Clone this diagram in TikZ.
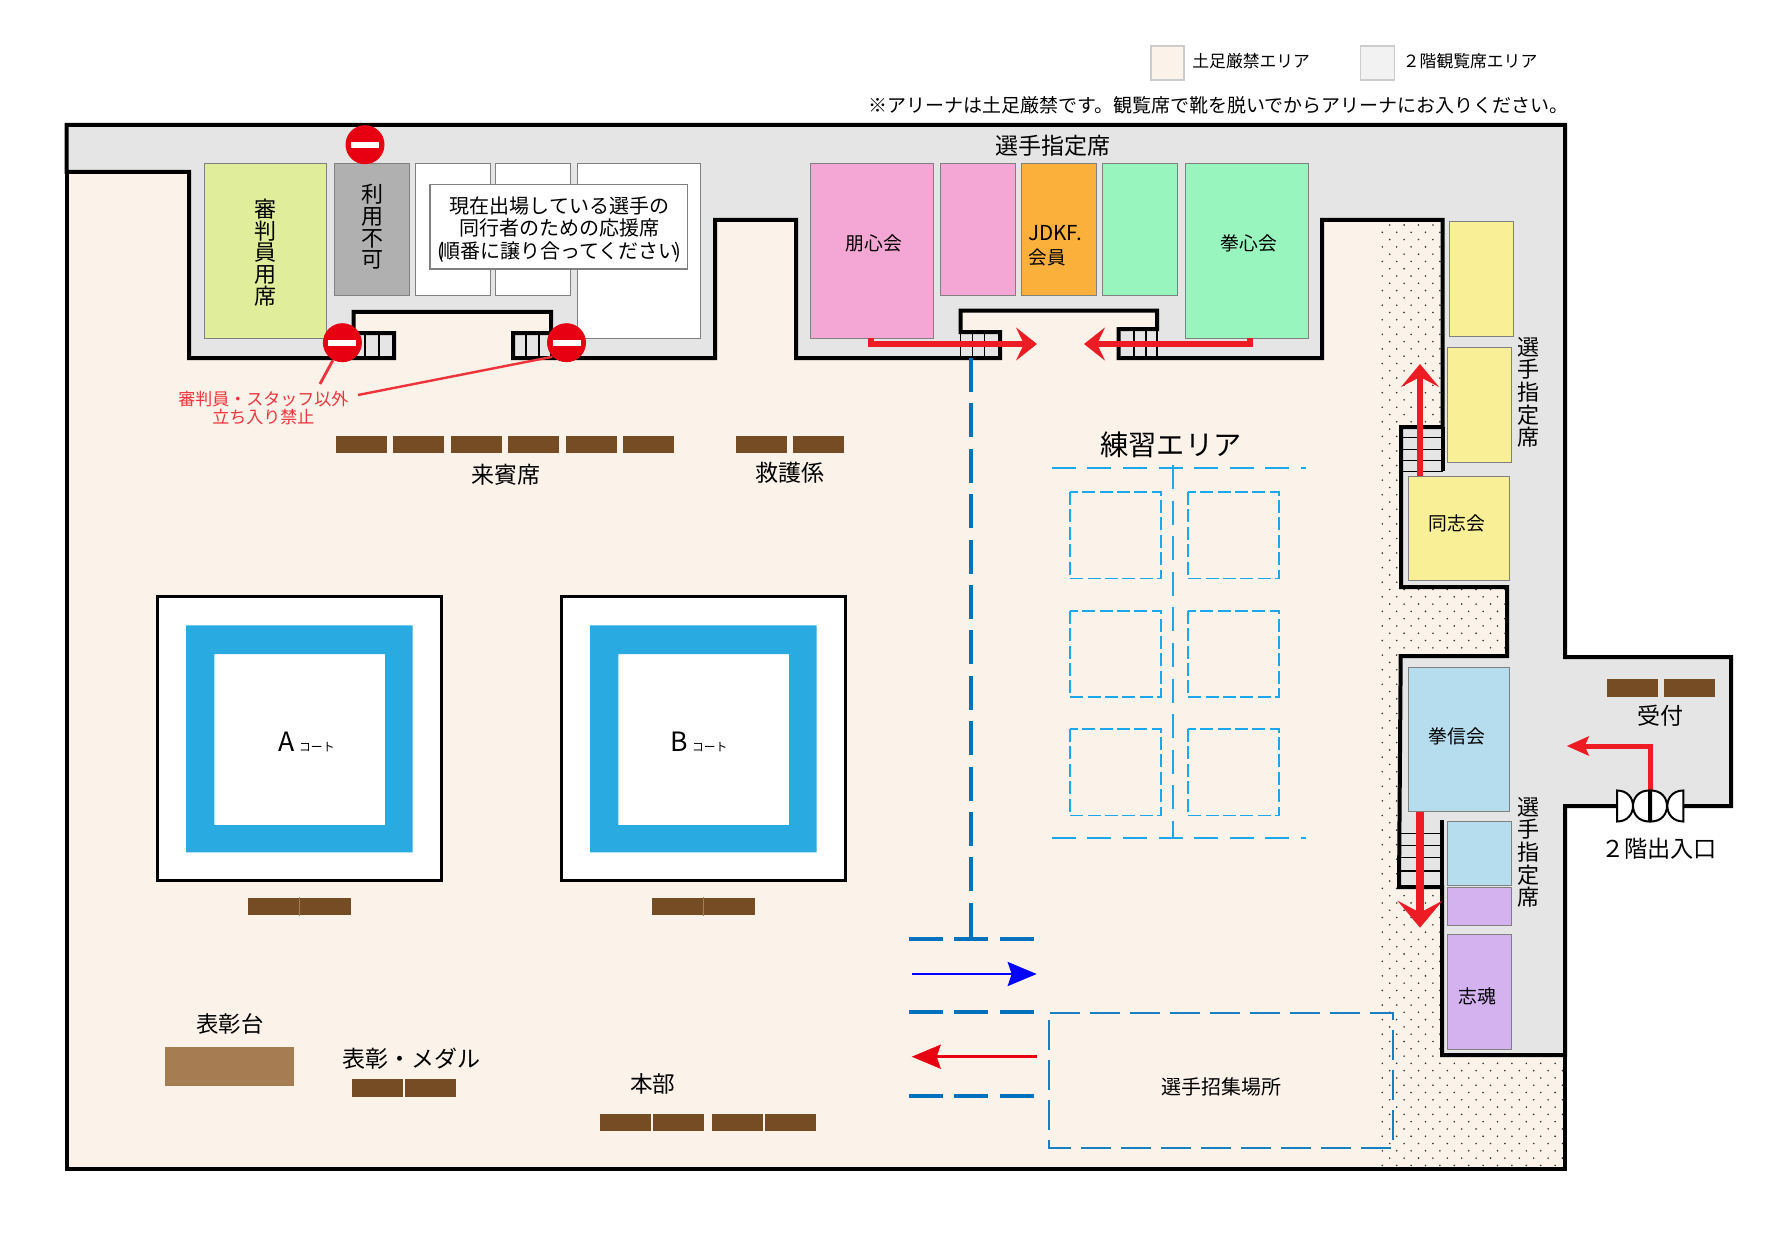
\documentclass[tikz,border=0pt]{standalone}
\usepackage{fontspec}
\setmainfont{Noto Sans CJK JP}
\usetikzlibrary{arrows.meta,positioning}

\definecolor{floorbeige}{HTML}{FBF2E9}
\definecolor{upstairs}{HTML}{E5E5E5}
\definecolor{legendgray}{HTML}{F2F2F2}
\definecolor{deskbrown}{HTML}{754C24}
\definecolor{podiumbrown}{HTML}{A67C52}
\definecolor{courtblue}{HTML}{29ABE2}
\definecolor{routeblue}{HTML}{0071BC}
\definecolor{matblue}{HTML}{1AA7EC}
\definecolor{flowred}{HTML}{ED1C24}
\definecolor{signred}{HTML}{E60012}
\definecolor{judgegreen}{HTML}{E0ED9A}
\definecolor{closedgray}{HTML}{B0B0B0}
\definecolor{pinkseat}{HTML}{F4A7D4}
\definecolor{orangeseat}{HTML}{FBB03B}
\definecolor{greenseat}{HTML}{98F5BD}
\definecolor{yellowseat}{HTML}{F8EF96}
\definecolor{blueseat}{HTML}{B6DDEE}
\definecolor{purpleseat}{HTML}{D4B2F0}

\begin{document}
\begin{tikzpicture}
    [
        x=0.5pt, y=-0.5pt,
        wall/.style={draw=black, line width=2pt, miter limit=4},
        seat/.style={draw=black!50, line width=0.5pt},
        stairline/.style={draw=black, line width=0.65pt},
        desk/.style={rectangle, fill=deskbrown, inner sep=0pt, minimum width=25.5pt, minimum height=8.7pt},
        noentry/.style={circle, fill=signred, text=white, inner sep=0pt, minimum size=19.5pt},
        txt/.style 2 args={inner sep=0pt, font=\fontsize{#1}{#2}\selectfont},
        vtxt/.style 2 args={txt={#1}{#2}, align=center},
        routeline/.style={routeblue, line width=2.2pt, dash pattern=on 17pt off 5.7pt},
        matline/.style={matblue, line width=0.8pt, dash pattern=on 12pt off 5.8pt},
        matbox/.style={matblue, line width=0.8pt, dash pattern=on 6.5pt off 2.2pt},
        callarea/.style={routeblue!90!white, line width=1pt, dash pattern=on 15pt off 5pt},
        flowarrow/.style n args={4}{flowred, line width=#1, -{Stealth[length=#2, width=#3, inset=#4]}},
    ]

    \fill [white] (0,0) rectangle (1772,1246);
    \useasboundingbox (0,0) rectangle (1772,1246);

    % floor and dots
    \fill [floorbeige] (66.5,125) rectangle (1565,1169);
    \foreach \r in {0,...,129} {
        \pgfmathsetmacro\rowy{225+7.29*\r}
        \pgfmathsetmacro\rowx{1382.3+7.4*(1-mod(\r,2))}
        \foreach \c in {0,...,12}
            \fill [black!80] ({\rowx+14.4*\c},\rowy) circle [radius=0.45pt];
    }
    \draw [wall] (66.5,125) rectangle (1565,1169);

    % upstairs area
    \path [wall, fill=upstairs] (66.5,125) -- (1565,125) -- (1565,657) -- (1731,657) -- (1731,806)
        -- (1565,806) -- (1565,1055) -- (1442,1055) -- (1442,887) -- (1399,887) -- (1400.7,656)
        -- (1507,656) -- (1507,587) -- (1401,587) -- (1401,427) -- (1442.7,427) -- (1442.7,220)
        -- (1322,220) -- (1322,358) -- (1118.7,358) -- (1118.7,329) -- (1157,329) -- (1157,310.7)
        -- (960.6,310.7) -- (960.6,332) -- (1000,332) -- (1000,358) -- (796,358) -- (796,220)
        -- (715,220) -- (715,358) -- (513,358) -- (513,333) -- (551,333) -- (551,312)
        -- (353.6,312) -- (353.6,333) -- (394,333) -- (394,358) -- (189,358) -- (189,172)
        -- (66.5,172) -- cycle;
    \draw [wall] (1442.7,427) -- (1442.7,471);
    \draw [wall] (1442,887) -- (1442,820);

    % stairs
    \foreach \x in {353.6,365,379}
        \draw [stairline] (\x,333) -- (\x,358);
    \foreach \x in {526,539,551}
        \draw [stairline] (\x,333) -- (\x,358);
    \foreach \x in {960.6,972.5,984.7}
        \draw [stairline] (\x,332) -- (\x,358);
    \foreach \x in {1134,1146,1157}
        \draw [stairline] (\x,329) -- (\x,358);
    \foreach \y in {437.7,449.3,460.7,471.7}
        \draw [stairline] (1401,\y) -- (1442.7,\y);
    \foreach \y in {833.3,845.3,857.7,871}
        \draw [stairline] (1400,\y) -- (1442,\y);

    % seats
    \draw [seat, fill=judgegreen] (204.5,163.8) rectangle (326.8,338);
    \draw [seat, fill=closedgray] (334,163.8) rectangle (409.4,296);
    \draw [seat, fill=white] (415.6,163.8) rectangle (490.6,296);
    \draw [seat, fill=white] (495.5,163.8) rectangle (570.5,296);
    \draw [seat, fill=white] (577,163.8) rectangle (700,338);
    \draw [seat, fill=pinkseat] (810,163.8) rectangle (933,338);
    \draw [seat, fill=pinkseat] (940,163.8) rectangle (1015.7,296);
    \draw [seat, fill=orangeseat] (1021.5,163.8) rectangle (1096.5,296);
    \draw [seat, fill=greenseat] (1102,163.8) rectangle (1177.6,296);
    \draw [seat, fill=greenseat] (1185,163.8) rectangle (1308,338);
    \draw [seat, fill=yellowseat] (1449.3,221.3) rectangle (1513,336.3);
    \draw [seat, fill=yellowseat] (1447.3,347.3) rectangle (1511.7,462.3);
    \draw [seat, fill=yellowseat] (1408.3,476.3) rectangle (1509.3,580.7);
    \draw [seat, fill=blueseat] (1408.3,667.3) rectangle (1509.3,811.3);
    \draw [seat, fill=blueseat] (1447.3,821.3) rectangle (1511.7,885.7);
    \draw [seat, fill=purpleseat] (1447.3,887.3) rectangle (1511.7,925.3);
    \draw [seat, fill=purpleseat] (1447.3,934.3) rectangle (1511.7,1049.3);
    \draw [draw=black!50, line width=0.8pt, fill=white] (430,184.5) rectangle (687.5,269);

    \node (judges) at (265.6,252.5) [vtxt={11}{10.85}] {審\\判\\員\\用\\席};
    \node (closed) at (372,227) [vtxt={11}{10.85}] {利\\用\\不\\可};
    \node (cheer) at (559.5,229.5) [vtxt={10}{11.4}]
        {現在出場している選手の\\同行者のための応援席\\(\kern-2pt順番に譲り合ってください\kern-2pt)};
    \node (seatstop) at (1053,146) [txt={11.5}{13}] {選手指定席};
    \node (houshin) at (873.8,243.5) [txt={9.4}{11}] {朋心会};
    \node (jdkf) at (1028,245.5) [txt={9.3}{11.85}, align=left, anchor=west] {{\fontsize{10.3}{11.85}\selectfont JDKF.}\\会員};
    \node (kenshin) at (1249,243.5) [txt={9.4}{11}] {拳心会};
    \node (doushi) at (1456.7,523.5) [txt={9.4}{11}] {同志会};
    \node (kenshinkai) at (1456.7,736.7) [txt={9.4}{11}] {拳信会};
    \node (shikon) at (1477.3,996) [txt={9.4}{11}] {志魂};
    \node (seatsup) at (1528,392.5) [vtxt={11}{11.35}] {選\\手\\指\\定\\席};
    \node (seatsdown) at (1528,852.5) [vtxt={11}{11.35}] {選\\手\\指\\定\\席};

    % courts
    \foreach \name/\dx/\lx in {A/0/286.7, B/404/679} {
        \begin{scope}[shift={(\dx,0)}]
            \fill [white] (157.7,596.7) rectangle (441,880.7);
            \draw [black, line width=1.5pt] (157.7,596.7) rectangle (441,880.7);
            \fill [courtblue, even odd rule] (186,625.3) rectangle (412.7,852.3) (214.3,654) rectangle (385,825);
            \node (desk\name1) at (273.7,906.5) [desk] {};
            \node (desk\name2) at (325,906.5) [desk] {};
            \draw [podiumbrown, line width=0.3pt] (desk\name1.north east) -- (desk\name1.south east);
        \end{scope}
        \node (label\name) at (\lx,741.7) [txt={13.3}{15}] {\name};
        \node (small\name) [base right=1.8pt of label\name, txt={5.9}{6}] {コート};
    }

    % desks
    \foreach \x [count=\i] in {361.3,418.5,476.5,533.5,591.5,648.5}
        \node (guest\i) at (\x,444.7) [desk] {};
    \foreach \x [count=\i] in {761.5,818.5}
        \node (rescue\i) at (\x,444.7) [desk] {};
    \foreach \x [count=\i] in {377.3,430.3}
        \node (medal\i) at (\x,1088) [desk] {};
    \foreach \x [count=\i] in {625.5,678.7,737.2,790.5}
        \node (hq\i) at (\x,1122.2) [desk] {};
    \foreach \x [count=\i] in {1632.5,1689.5}
        \node (front\i) at (\x,688) [desk] {};
    \fill [podiumbrown] (164.7,1046.7) rectangle (293.7,1085.7);

    \node (guests) at (505.5,475) [txt={11.5}{13}] {来賓席};
    \node (rescue) at (790,473) [txt={11.5}{13}] {救護係};
    \node (podium) at (230,1024) [txt={11.2}{13}] {表彰台};
    \node (medals) at (411.5,1059) [txt={11.5}{13}] {表彰・メダル};
    \node (hq) at (652.7,1084) [txt={11.3}{13}] {本部};
    \node (front) at (1660,715.5) [txt={11.5}{13}] {受付};
    \node (exit) at (1659,849) [txt={11.6}{13}] {２階出入口};

    % practice area
    \node (practice) at (1171,445) [txt={14.1}{16}] {練習エリア};
    \draw [matline] (1051.7,467.7) -- (1305.7,467.7);
    \draw [matline] (1051.7,837.7) -- (1305.7,837.7);
    \draw [matline] (1172.7,465) -- (1172.7,837.7);
    \foreach \x in {1069.7,1187.7}
        \foreach \y in {492,610.7,729}
            \draw [matbox] (\x,\y) rectangle ++(91.5,86.5);

    % routes
    \draw [routeline] (971,358) -- (971,938.7);
    \foreach \y in {938.7,1011.7,1095.7}
        \draw [routeline, dash pattern=on 17pt off 5.7pt] (909,\y) -- (1033.6,\y);
    \draw [-{Stealth[length=14.5pt, width=12pt, inset=2pt]}, blue, line width=1.3pt] (911.7,974) -- (1036.7,974);
    \draw [-{Stealth[length=14.5pt, width=12pt, inset=2pt]}, signred, line width=1.3pt] (1037,1056.7) -- (911.7,1056.7);
    \draw [callarea] (1050,1012.7) -- (1392.7,1012.7) -- (1392.7,1148) -- (1049,1148) -- (1049,1012.7);
    \node (callroom) at (1221,1087) [txt={10}{12}] {選手招集場所};

    % red flows
    \draw [flowarrow={2.8pt}{10.5pt}{16.5pt}{4pt}] (870.7,338) |- (1037,344);
    \draw [flowarrow={2.8pt}{10.5pt}{16.5pt}{4pt}] (1250,338) |- (1084,344);
    \draw [flowarrow={3pt}{11.5pt}{19pt}{5pt}] (1420,476) -- (1420,364);
    \draw [flowarrow={3.7pt}{13.5pt}{22.5pt}{6pt}] (1420,811.7) -- (1420,927.7);
    \draw [flowarrow={2.5pt}{11pt}{9.5pt}{2pt}] (1650,790.7) |- (1566.7,746);

    % doors
    \foreach \xa/\xb in {1617/1638.3, 1683.3/1662, 1649/1627.7, 1651/1672.3}
        \draw [fill=white, line width=1pt] (\xa,790.5) .. controls (\xb,790.5) and (\xb,821.5) .. (\xa,821.5) -- cycle;

    % no entry signs
    \node (signtop) at (365,144.7) [noentry] {\rule{14pt}{3pt}};
    \node (signleft) at (342.4,342.7) [noentry] {\rule{14pt}{3pt}};
    \node (signright) at (566.5,342.7) [noentry] {\rule{14pt}{3pt}};
    \node (staffonly) at (263.4,408) [txt={8.5}{9.1}, align=center, flowred!90!white] {審判員・スタッフ以外\\立ち入り禁止};
    \coordinate (noteleft) at (320,384);
    \coordinate (noteright) at (358,395);
    \draw [flowred!90!white, line width=1.4pt] (signleft) -- (noteleft);
    \draw [flowred!90!white, line width=1.2pt] (signright.south west) -- (noteright);

    % legend
    \draw [black!20, line width=0.8pt, fill=floorbeige] (1150.7,46) rectangle (1184,80);
    \draw [black!20, line width=0.8pt, fill=legendgray] (1360.6,46) rectangle (1394.5,80);
    \node (legendfloor) at (1192,60.7) [txt={8.4}{10}, anchor=west] {土足厳禁エリア};
    \node (legendup) at (1402.5,60.7) [txt={8.4}{10}, anchor=west] {２階観覧席エリア};
    \node (shoenote) at (868,105.7) [txt={9.5}{11}, anchor=west] {※アリーナは土足厳禁です。観覧席で靴を脱いでからアリーナにお入りください。};

\end{tikzpicture}
\end{document}
